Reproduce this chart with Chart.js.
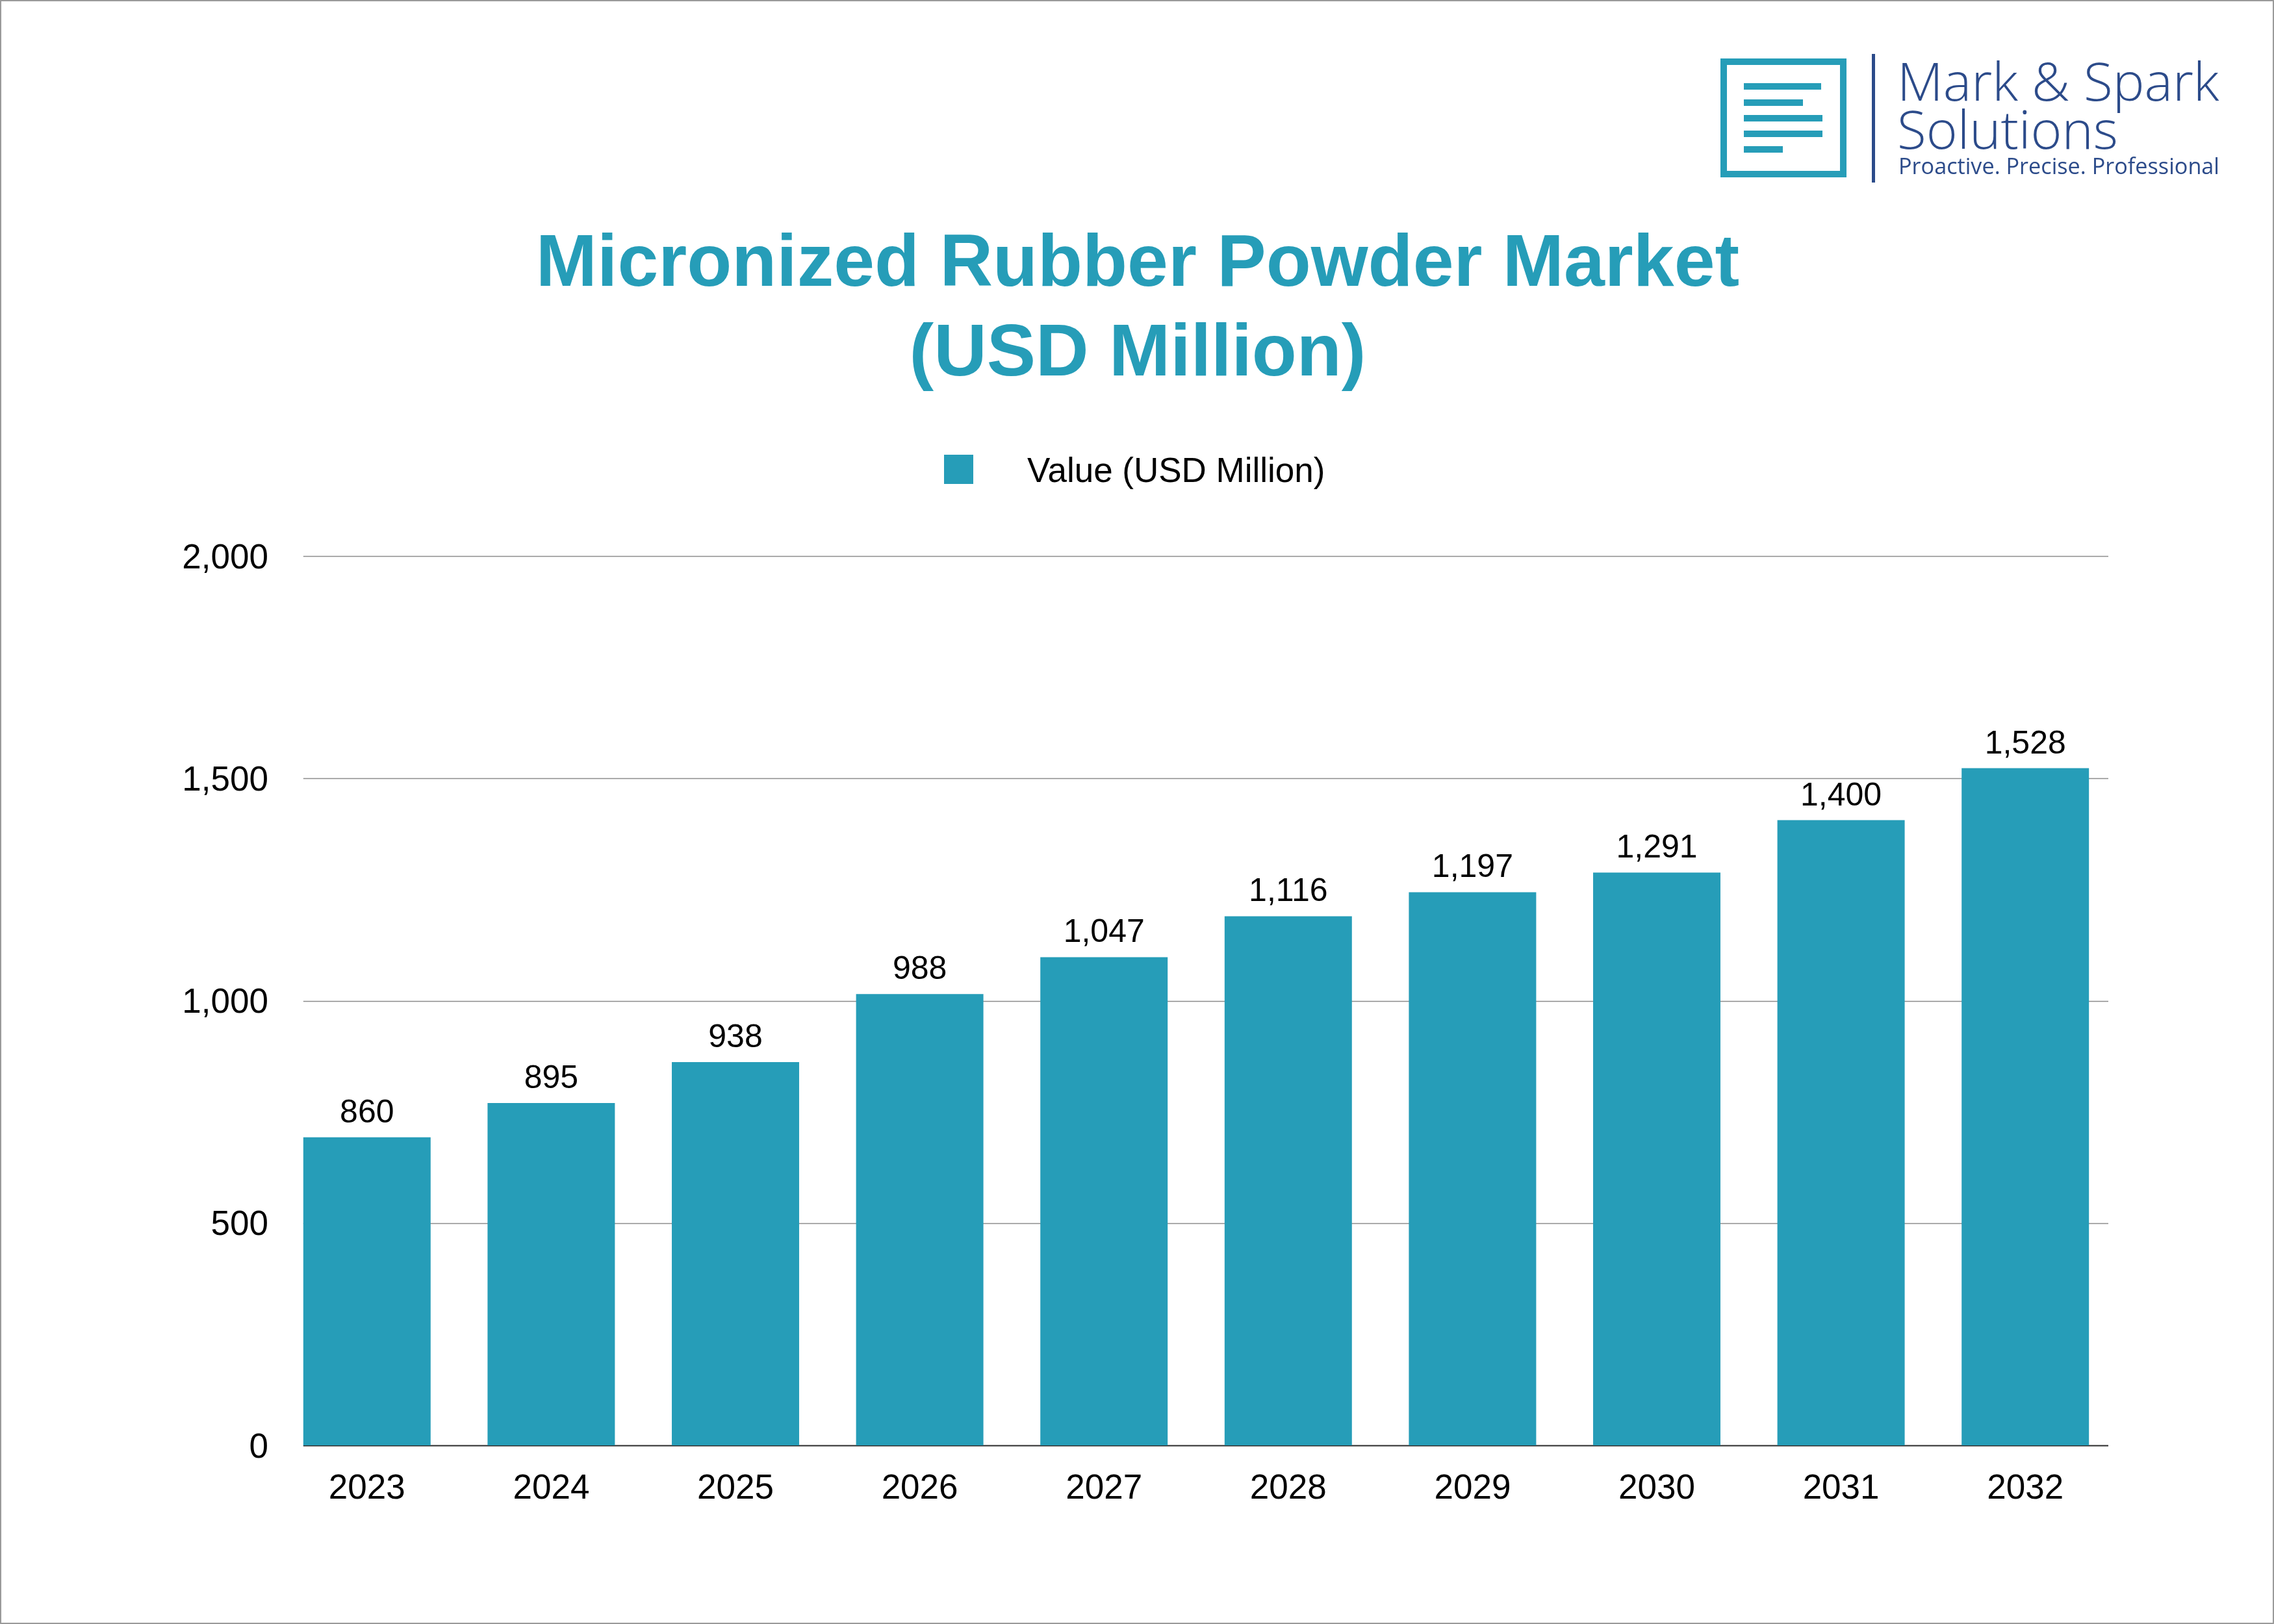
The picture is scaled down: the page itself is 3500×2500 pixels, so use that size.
<!DOCTYPE html>
<html>
<head>
<meta charset="utf-8">
<script src="https://cdn.jsdelivr.net/npm/chart.js@4.4.1/dist/chart.umd.min.js"></script>
<style>
	html, body { margin: 0; padding: 0; background: #fff; }
	#wrap { width: 3500px; height: 2500px; }
</style>
</head>
<body>
<div id="wrap"><canvas id="chartMarket" width="3500" height="2500"></canvas></div>
<script>
const years = ['2023', '2024', '2025', '2026', '2027', '2028', '2029', '2030', '2031', '2032'];
// bar heights as drawn in the picture
const barValues = [693, 770, 862, 1015, 1098, 1190, 1244, 1288, 1406, 1523];
// numbers printed above the bars
const valueLabels = ['860', '895', '938', '988', '1,047', '1,116', '1,197', '1,291', '1,400', '1,528'];
const yMin = 0;
const yMax = 2000;
const yStep = 500;
const seriesName = 'Value (USD Million)';
const titleLines = ['Micronized Rubber Powder Market', '(USD Million)'];
const brandLines = ['Mark & Spark', 'Solutions', 'Proactive. Precise. Professional'];

const barColor = '#269db8';
const navy = '#2c4b8a';
const font = 'Liberation Sans, Arial, sans-serif';

const ctxMarket = document.getElementById('chartMarket').getContext('2d');

const gridPlugin = {
	id: 'customGrid',
	beforeDatasetsDraw: (chart) => {
		const {ctx, chartArea} = chart;
		const y = chart.scales.y;
		const first = chart.getDatasetMeta(0).data[0];
		const left = first.x - first.width / 2;
		const right = chartArea.right - 14;
		ctx.save();
		y.ticks.forEach((t) => {
			const py = Math.round(y.getPixelForValue(t.value)) + 0.5;
			ctx.beginPath();
			ctx.lineWidth = t.value === 0 ? 2 : 1.5;
			ctx.strokeStyle = t.value === 0 ? '#2a2a2a' : '#8c8c8c';
			ctx.moveTo(left, py);
			ctx.lineTo(right, py);
			ctx.stroke();
		});
		ctx.restore();
	}
};

const valueLabelPlugin = {
	id: 'valueLabels',
	afterDatasetsDraw: (chart) => {
		const {ctx} = chart;
		ctx.save();
		ctx.font = '50px ' + font;
		ctx.fillStyle = '#000';
		ctx.textAlign = 'center';
		ctx.textBaseline = 'alphabetic';
		chart.getDatasetMeta(0).data.forEach((bar, i) => {
			ctx.fillText(valueLabels[i], bar.x, bar.y - 23);
		});
		ctx.restore();
	}
};

const decorPlugin = {
	id: 'decor',
	afterDraw: (chart) => {
		const {ctx} = chart;
		ctx.save();

		// title
		ctx.fillStyle = barColor;
		ctx.font = 'bold 113px ' + font;
		ctx.textAlign = 'center';
		ctx.textBaseline = 'middle';
		titleLines.forEach((line, i) => {
			ctx.fillText(line, 1751, 409 + i * 138);
		});

		// legend
		ctx.fillStyle = barColor;
		ctx.fillRect(1453, 700, 45, 45);
		ctx.fillStyle = '#000';
		ctx.font = '53px ' + font;
		ctx.textAlign = 'left';
		ctx.fillText(seriesName, 1581, 727);

		// logo icon
		ctx.strokeStyle = barColor;
		ctx.lineWidth = 10;
		ctx.strokeRect(2653, 95, 184, 173);
		ctx.fillStyle = barColor;
		[[128, 2803], [153, 2775], [177, 2805], [201, 2805], [225, 2744]].forEach(([ly, lx]) => {
			ctx.fillRect(2684, ly, lx - 2684, 10);
		});
		ctx.fillStyle = navy;
		ctx.fillRect(2881, 83, 5, 198);

		// logo text
		ctx.textBaseline = 'alphabetic';
		ctx.font = '300 82px "Open Sans", sans-serif';
		ctx.fillText(brandLines[0], 2920, 155, 496);
		ctx.fillText(brandLines[1], 2920, 229, 340);
		ctx.font = '35px "Open Sans", sans-serif';
		ctx.fillText(brandLines[2], 2922, 268, 494);

		// frame
		ctx.strokeStyle = '#9a9a9a';
		ctx.lineWidth = 2;
		ctx.strokeRect(1, 1, chart.width - 2, chart.height - 2);
		ctx.restore();
	}
};

const bgPlugin = {
	id: 'customCanvasBackgroundColor',
	beforeDraw: (chart) => {
		const {ctx} = chart;
		ctx.save();
		ctx.globalCompositeOperation = 'destination-over';
		ctx.fillStyle = '#fff';
		ctx.fillRect(0, 0, chart.width, chart.height);
		ctx.restore();
	}
};

let chartMarketConfig = {
	type: 'bar',
	data: {
		labels: years,
		datasets: [{
			label: seriesName,
			data: barValues,
			backgroundColor: barColor,
			borderWidth: 0,
			categoryPercentage: 1,
			barPercentage: 0.691
		}]
	},
	options: {
		responsive: false,
		animation: false,
		layout: {
			padding: {
				top: 856,
				left: 280,
				right: 241,
				bottom: 175
			}
		},
		scales: {
			x: {
				grid: {
					display: false,
					drawTicks: false
				},
				border: {
					display: false
				},
				ticks: {
					padding: 36,
					color: '#000',
					font: {
						family: font,
						size: 53
					}
				},
				afterFit: (scale) => { scale.height = 100; }
			},
			y: {
				min: yMin,
				max: yMax,
				grid: {
					display: false,
					drawTicks: false
				},
				border: {
					display: false
				},
				ticks: {
					stepSize: yStep,
					padding: 10,
					labelOffset: 4,
					color: '#000',
					font: {
						family: font,
						size: 53
					}
				},
				afterFit: (scale) => { scale.width = 143; }
			}
		},
		plugins: {
			legend: {
				display: false
			},
			tooltip: {
				enabled: false
			},
			title: {
				display: false
			}
		}
	},
	plugins: [bgPlugin, gridPlugin, valueLabelPlugin, decorPlugin]
};

new Chart(ctxMarket, chartMarketConfig);
</script>
</body>
</html>
